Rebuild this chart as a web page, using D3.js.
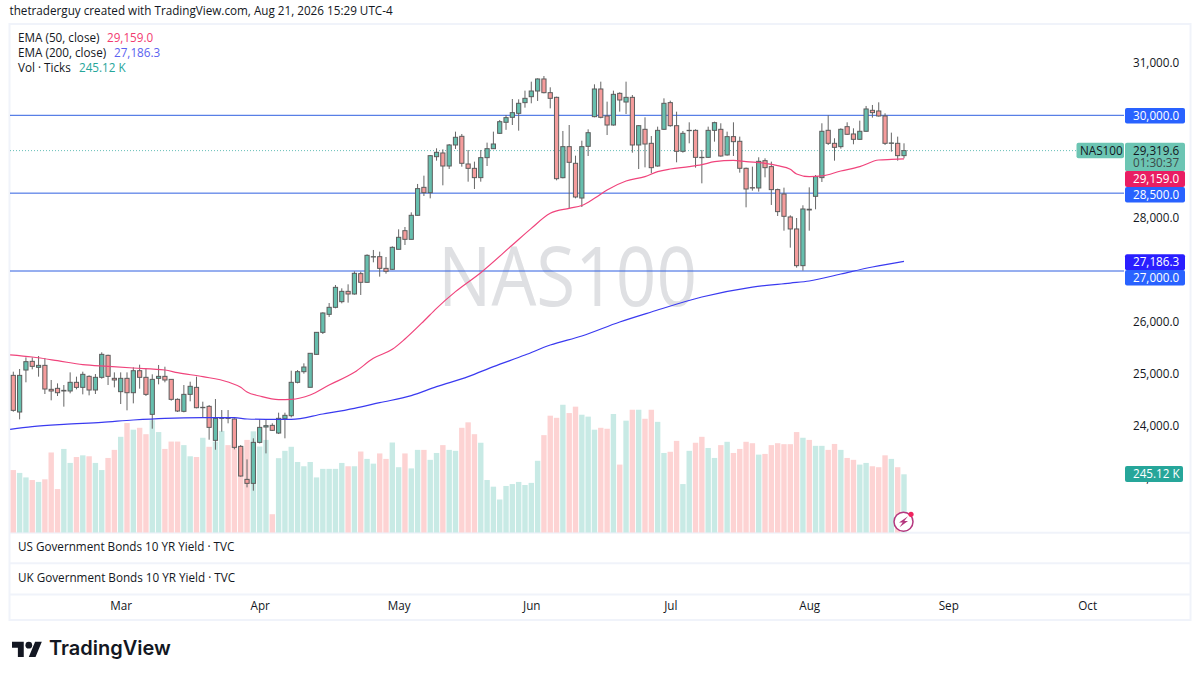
<!DOCTYPE html>
<html>
<head>
<meta charset="utf-8">
<script src="https://cdn.jsdelivr.net/npm/d3@7"></script>
<style>
html, body { margin: 0; padding: 0; background: #fff; }
svg { display: block; font-family: "Open Sans", sans-serif; }
.tick line, .domain { display: none; }
</style>
</head>
<body>
<div id="chart"></div>
<script>
const opens = [24989,24283,25092,25259,25144,25182,24720,24739,24688,24688,24855,24758,24970,24707,24951,25375,24932,24675,24932,24655,25079,24951,24238,24932,24970,24912,24527,24296,24623,24758,24366,24392,23737,24161,24167,24148,23621,22985,22908,23698,23994,24026,23878,24155,24212,24855,25060,24759,25394,25818,26165,26300,26409,26608,26557,26949,26782,27270,27276,27051,27032,27418,27777,27610,28073,28612,28509,29203,29274,29023,29428,29595,29062,28978,28799,29184,29357,29653,29865,29961,30038,30244,30359,30468,30700,30436,30346,28798,29396,29075,28406,29402,29974,30507,29987,29813,30423,30256,30346,29428,29730,29460,29023,29730,30244,29800,29306,29705,29710,29190,29190,29710,29730,29236,29589,29499,28979,28605,28600,29126,29011,28568,28484,28041,27810,27103,28190,28439,28799,29711,29460,29396,29781,29640,29537,29692,30096,30083,29987,29460,29460,29223]
const highs = [25060,25112,25336,25336,25362,25323,24900,24835,24803,25047,24964,25060,24989,25015,25433,25388,25047,25047,25047,25144,25195,25124,25009,25189,25156,24912,24546,24803,24867,24964,24482,24418,24533,24321,24321,24161,23647,23371,23776,24142,24129,24065,24270,24270,25079,25092,25221,25414,25820,26204,26383,26730,26666,26743,26994,26987,27321,27405,27373,27270,27475,27803,27848,28130,28677,28837,29235,29364,29344,29447,29685,29640,29332,29107,29332,29473,29685,29910,30006,30314,30308,30475,30648,30712,30757,30539,30359,29698,29813,29222,29511,29730,30597,30648,30263,30475,30443,30648,30391,29810,29961,29601,29781,30327,30282,30070,29698,29865,29730,29332,29781,29877,29846,29685,29865,29589,28992,29011,29191,29171,29107,28587,28606,28073,28021,28266,28612,28850,29846,30001,29557,29749,29865,29749,29897,30180,30199,30250,30038,29666,29589,29460]
const lows = [24289,24142,24855,25105,24964,24630,24508,24591,24386,24643,24720,24623,24604,24630,24925,24803,24758,24437,24315,24450,24733,24591,23962,24816,24855,24501,24283,24277,24489,24354,24180,23750,23557,23904,24065,23564,23037,22831,22767,23679,23486,23917,23859,23776,24180,24835,25022,24759,25390,25786,26114,26281,26377,26390,26544,26538,26775,27167,26891,26949,27019,27418,27501,27610,28067,28445,28400,29126,28651,28966,29351,29010,28721,28580,28721,29023,29350,29640,29720,29813,29704,30147,30231,30276,30423,30134,28747,28785,28207,28400,28233,29216,29961,29942,29620,29800,30070,30025,29280,28965,28997,28882,29010,29717,29781,29094,29280,29460,28991,28689,29180,29492,29203,29223,29216,28895,28227,28548,28529,28805,28272,28060,27777,27450,27065,27007,27777,28189,28715,29428,29126,29358,29621,29441,29525,29686,29955,29974,29428,29300,29126,29171]
const closes = [24315,24989,25253,25163,25182,24726,24688,24655,24700,24855,24758,25009,24707,24951,25394,24970,24900,24932,24655,25079,24951,24623,24912,24970,24900,24527,24302,24623,24778,24366,24373,23987,24161,24167,24160,23602,23050,22908,23698,23987,24020,23930,24161,24219,24855,25060,25150,25414,25818,26191,26300,26685,26608,26557,26955,26782,27302,27276,27051,26994,27456,27649,27610,28073,28587,28509,29222,29287,29023,29428,29576,29075,28978,28799,29184,29357,29447,29877,29955,30051,30231,30327,30468,30700,30436,30327,28779,29396,29094,28426,29396,29665,30507,29961,29813,30404,30295,30346,29428,29800,29447,28991,29710,30231,29800,29306,29653,29710,29190,29185,29710,29858,29216,29589,29492,28979,28580,28600,29113,28991,28568,28144,28054,27810,27103,28195,28176,28818,29692,29460,29383,29730,29634,29537,29692,30122,30051,29987,29460,29467,29223,29320]
const volumes = [263,251,232,221,213,224,337,183,352,293,318,325,321,293,263,314,348,403,461,433,441,414,473,423,352,383,383,368,321,318,399,361,383,428,368,362,355,390,426,362,390,77,313,344,361,297,279,297,232,268,268,268,293,279,279,341,310,290,333,310,379,275,333,270,348,348,306,335,368,348,344,441,464,414,378,221,193,139,196,204,213,200,209,302,410,492,483,538,503,530,496,488,433,441,437,499,286,471,517,517,479,517,466,335,340,386,204,344,378,403,356,314,368,382,335,352,382,376,328,331,368,376,372,372,423,399,390,365,365,348,373,348,314,306,286,293,279,275,325,310,275,245.12]

const ema50Index = [-0.5,3,7,11,15,19,24,26,30,34,36,37,39,42,44,47,50,54,57,60,62,65,67,70,74,79,82,85,88,90,92,94,97,100,102,104,107,109,111,114,116,119,121,123,124,126,128,131,134,137,139,141]
const ema50Values = [25385,25343,25272,25195,25163,25131,25092,25041,24964,24861,24758,24668,24591,24521,24527,24611,24803,25047,25317,25491,25690,26037,26281,26602,26968,27501,27822,28111,28208,28262,28400,28561,28734,28818,28914,28965,29010,29049,29107,29133,29107,29075,29030,28959,28869,28818,28831,28927,29011,29139,29150,29159]
const ema200Index = [-0.5,3,8,14,19,24,30,35,37,40,44,49,54,58,63,67,72,76,81,85,90,96,101,109,117,123,126,131,136,141]
const ema200Values = [23950,24000,24045,24084,24129,24161,24174,24174,24148,24142,24142,24245,24354,24463,24598,24771,24964,25157,25381,25574,25748,26017,26210,26499,26691,26768,26807,26942,27077,27186.3]

const priceTicks = [31000,28000,26000,25000,24000,23000]
const hLevels = [30000,28500,27000]
const monthIndex = [17,39,61,82,104,126,148,170]
const monthNames = ['Mar','Apr','May','Jun','Jul','Aug','Sep','Oct']
const lastPrice = 29319.6

const width = 1200, height = 675
const paneRight = 1124, paneBottom = 532.5
const labelFont = 11.7

const svg = d3.select('#chart').append('svg').attr('width', width).attr('height', height)

const x = d3.scaleLinear().domain([0, 141]).range([13.3, 904])
const y = d3.scaleLinear().domain([27000, 30000]).range([271, 115.3])
const yVol = d3.scaleLinear().domain([0, 245.12]).range([paneBottom, 474.3])

// frame and pane separators
svg.append('rect').attr('x', 9.5).attr('y', 24).attr('width', 1181).attr('height', 596)
    .attr('fill', '#fff').attr('stroke', '#f0f3fa').attr('stroke-width', 2)
svg.selectAll('.sep').data([532.7, 563.3, 594.5]).enter().append('line')
    .attr('x1', 10).attr('x2', 1190).attr('y1', d => d).attr('y2', d => d)
    .attr('stroke', '#f0f3fa').attr('stroke-width', 2)

svg.append('text').attr('x', 9.5).attr('y', 14.5).attr('font-size', labelFont).attr('fill', '#131722')
    .text('thetraderguy created with TradingView.com, Aug 21, 2026 15:29 UTC-4')

svg.append('text').attr('x', 438).attr('y', 305.5)
    .attr('font-size', 82).attr('textLength', 259).attr('lengthAdjust', 'spacingAndGlyphs')
    .attr('fill', '#dfe0e3').text('NAS100')

// volume
svg.selectAll('.vol').data(volumes).enter().append('rect')
    .attr('x', (d, i) => x(i) - 2.7)
    .attr('width', 5.4)
    .attr('y', d => yVol(d))
    .attr('height', d => paneBottom - yVol(d))
    .attr('fill', (d, i) => closes[i] >= opens[i] ? '#c8eae5' : '#fdd3d3')

// levels
svg.selectAll('.level').data(hLevels).enter().append('line')
    .attr('x1', 10).attr('x2', paneRight).attr('y1', d => y(d)).attr('y2', d => y(d))
    .attr('stroke', '#2f5fe0').attr('stroke-width', 1)
svg.append('line').attr('x1', 10).attr('x2', 1078).attr('y1', y(lastPrice)).attr('y2', y(lastPrice))
    .attr('stroke', '#26a69a').attr('stroke-width', 1).attr('stroke-dasharray', '1 2').attr('opacity', 0.7)

// candles
const candles = svg.selectAll('.candle').data(opens).enter().append('g')
candles.append('line')
    .attr('x1', (d, i) => x(i)).attr('x2', (d, i) => x(i))
    .attr('y1', (d, i) => y(highs[i])).attr('y2', (d, i) => y(lows[i]))
    .attr('stroke', '#666').attr('stroke-width', 1)
candles.append('rect')
    .attr('x', (d, i) => x(i) - 2.1)
    .attr('width', 4.2)
    .attr('y', (d, i) => y(Math.max(opens[i], closes[i])))
    .attr('height', (d, i) => Math.max(0.3, Math.abs(y(opens[i]) - y(closes[i]))))
    .attr('fill', (d, i) => closes[i] >= opens[i] ? '#66bfae' : '#f59c9c')
    .attr('stroke', '#5c5c5c').attr('stroke-width', 1)

// ema lines
const lineGen = d3.line().x(d => x(d[0])).y(d => y(d[1])).curve(d3.curveMonotoneX)
svg.append('path').datum(ema50Index.map((d, i) => [d, ema50Values[i]]))
    .attr('d', lineGen).attr('fill', 'none').attr('stroke', '#f0447c').attr('stroke-width', 1.2)
svg.append('path').datum(ema200Index.map((d, i) => [d, ema200Values[i]]))
    .attr('d', lineGen).attr('fill', 'none').attr('stroke', '#3a3af0').attr('stroke-width', 1.2)

// axes
svg.append('g').attr('transform', 'translate(' + paneRight + ',-1)')
    .call(d3.axisRight(y).tickValues(priceTicks).tickSize(0).tickPadding(9).tickFormat(d3.format(',.1f')))
    .call(s => s.selectAll('text').attr('font-size', labelFont).attr('fill', '#131722').attr('font-family', '"Open Sans", sans-serif'))
svg.append('g').attr('transform', 'translate(0,598)')
    .call(d3.axisBottom(x).tickValues(monthIndex).tickSize(0).tickPadding(4).tickFormat((d, i) => monthNames[i]))
    .call(s => s.selectAll('text').attr('font-size', labelFont).attr('fill', '#131722').attr('font-family', '"Open Sans", sans-serif'))

// legend
const legendRows = [['EMA (50, close)', '29,159.0', '#f23a70', 38], ['EMA (200, close)', '27,186.3', '#5a62f0', 53], ['Vol · Ticks', '245.12 K', '#26a69a', 68]]
const legendValueX = [107, 114, 79]
legendRows.forEach((r, i) => {
    svg.append('text').attr('x', 18).attr('y', r[3] + 4).attr('font-size', labelFont).attr('fill', '#131722').text(r[0])
    svg.append('text').attr('x', legendValueX[i]).attr('y', r[3] + 4).attr('font-size', labelFont).attr('fill', r[2]).text(r[1])
})
svg.append('text').attr('x', 18).attr('y', 551).attr('font-size', labelFont).attr('fill', '#131722').text('US Government Bonds 10 YR Yield · TVC')
svg.append('text').attr('x', 18).attr('y', 582).attr('font-size', labelFont).attr('fill', '#131722').text('UK Government Bonds 10 YR Yield · TVC')

// price tags
function tag(text, top, h, bg, fg, w) {
    svg.append('rect').attr('x', 1125).attr('y', top).attr('width', w || 60).attr('height', h).attr('rx', 2).attr('fill', bg)
    svg.append('text').attr('x', 1133).attr('y', top + 11.8).attr('font-size', labelFont).attr('fill', fg).text(text)
}
tag('30,000.0', 108, 15.5, '#2962ff', '#fff')
tag('29,319.6', 142.7, 28.5, '#6cc5b3', '#131722')
svg.append('text').attr('x', 1133).attr('y', 167).attr('font-size', labelFont).attr('fill', '#3c4a48').text('01:30:37')
tag('29,159.0', 171, 16, '#e91e63', '#fff')
tag('28,500.0', 187, 15.5, '#2962ff', '#fff')
tag('27,186.3', 254.3, 16, '#2a1fff', '#fff')
tag('27,000.0', 270, 15.5, '#2962ff', '#fff')
tag('245.12 K', 466, 16, '#26a69a', '#fff', 58)
svg.append('rect').attr('x', 1076.5).attr('y', 142.7).attr('width', 47.5).attr('height', 15.5).attr('rx', 2).attr('fill', '#6cc5b3')
svg.append('text').attr('x', 1080).attr('y', 154.5).attr('font-size', labelFont).attr('fill', '#131722').text('NAS100')

// flash icon
const icon = svg.append('g').attr('transform', 'translate(903.5,521.7)')
icon.append('circle').attr('r', 9.5).attr('fill', '#fff').attr('stroke', '#b5377f').attr('stroke-width', 1.5)
icon.append('path').attr('d', 'M4.5 -5.5 L-4.5 0.8 L-0.8 0.8 L-4 5.5 L4.5 -0.8 L0.8 -0.8 Z').attr('fill', '#b5377f')
icon.append('circle').attr('cx', 7.5).attr('cy', -7.4).attr('r', 2.6).attr('fill', '#f0245f')

// logo
const logo = svg.append('g').attr('transform', 'translate(12,638.5) scale(0.84)').attr('fill', '#131722')
logo.append('path').attr('d', 'M14 22H7V11H0V4h14v18zM28 22h-8l7.5-18h8L28 22z')
logo.append('circle').attr('cx', 20).attr('cy', 8).attr('r', 4)
svg.append('text').attr('x', 49).attr('y', 654.5).attr('font-family', 'Inter, sans-serif').attr('font-weight', 600)
    .attr('font-size', 20).attr('fill', '#131722').text('TradingView')
</script>
</body>
</html>
